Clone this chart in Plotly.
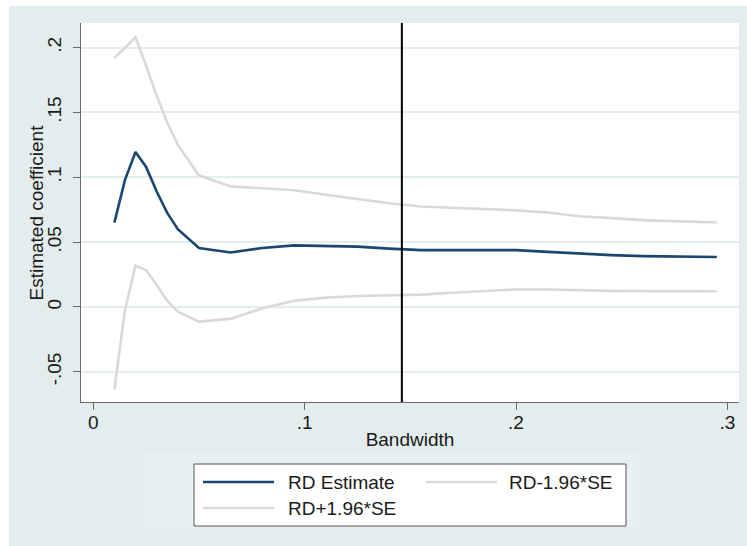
import plotly.graph_objects as go

# ---- data ----
bandwidth = [0.01, 0.015, 0.02, 0.025, 0.03, 0.035, 0.04, 0.05, 0.065, 0.08,
             0.095, 0.11, 0.125, 0.14, 0.155, 0.17, 0.185, 0.2, 0.215, 0.23,
             0.245, 0.26, 0.275, 0.295]
rd_estimate = [0.065, 0.098, 0.1195, 0.108, 0.089, 0.0725, 0.060, 0.0455, 0.042, 0.0455,
               0.0475, 0.047, 0.0465, 0.045, 0.0438, 0.0438, 0.044, 0.0438, 0.0425, 0.041,
               0.040, 0.0392, 0.0388, 0.0385]
rd_upper = [0.192, 0.200, 0.208, 0.186, 0.163, 0.142, 0.125, 0.1015, 0.093, 0.0915,
            0.090, 0.0865, 0.083, 0.080, 0.0775, 0.0765, 0.0755, 0.0745, 0.0728, 0.070,
            0.0685, 0.067, 0.0662, 0.0651]
rd_lower = [-0.0638, -0.0023, 0.0318, 0.0285, 0.0169, 0.0048, -0.0036, -0.0113, -0.0092, -0.001,
            0.0048, 0.0072, 0.0085, 0.0088, 0.0095, 0.011, 0.0125, 0.0135, 0.0135, 0.0128,
            0.0124, 0.0122, 0.0121, 0.0121]
chosen_bandwidth = 0.146

y_ticks = [-0.05, 0, 0.05, 0.1, 0.15, 0.2]
y_ticklabels = ["-.05", "0", ".05", ".1", ".15", ".2"]
x_ticks = [0, 0.1, 0.2, 0.3]
x_ticklabels = ["0", ".1", ".2", ".3"]
legend_labels = ["RD Estimate", "RD-1.96*SE", "RD+1.96*SE"]
y_title = "Estimated coefficient"
x_title = "Bandwidth"

NAVY = "#1a476f"
GREY = "#d9d9d9"
BG = "#e3eded"
FONT = "Liberation Sans, Arial, sans-serif"
TXT = "#1a1a1a"
FS = 19

fig = go.Figure()
fig.add_trace(go.Scatter(x=bandwidth, y=rd_estimate, mode="lines", name=legend_labels[0],
                         line=dict(color=NAVY, width=2.6), showlegend=False))
fig.add_trace(go.Scatter(x=bandwidth, y=rd_lower, mode="lines", name=legend_labels[1],
                         line=dict(color=GREY, width=2.6), showlegend=False))
fig.add_trace(go.Scatter(x=bandwidth, y=rd_upper, mode="lines", name=legend_labels[2],
                         line=dict(color=GREY, width=2.6), showlegend=False))

L, R, T, B = 81, 8, 23, 144
W, H = 747, 546
pw, ph = W - L - R, H - T - B

def px(xpix):
    return (xpix - L) / pw

def py(ypix):
    return (H - B - ypix) / ph

shapes = []
# white outer strips
shapes.append(dict(type="rect", xref="paper", yref="paper", x0=px(-5), x1=px(9), y0=py(560), y1=py(-5),
                   fillcolor="white", line=dict(width=0), layer="below"))
shapes.append(dict(type="rect", xref="paper", yref="paper", x0=px(-5), x1=px(760), y0=py(6), y1=py(-5),
                   fillcolor="white", line=dict(width=0), layer="below"))
# legend region (subtle)
shapes.append(dict(type="rect", xref="paper", yref="paper", x0=px(145), x1=px(639), y0=py(527), y1=py(453),
                   fillcolor="#e8f1f1", line=dict(width=0), layer="below"))
# chosen bandwidth line
shapes.append(dict(type="line", xref="x", yref="paper", x0=chosen_bandwidth, x1=chosen_bandwidth,
                   y0=0, y1=1, line=dict(color="black", width=2)))
# legend box
shapes.append(dict(type="rect", xref="paper", yref="paper", x0=px(194), x1=px(626), y0=py(526), y1=py(464),
                   fillcolor="white", line=dict(color="#555555", width=1)))
# legend samples
samples = [(203, 274, 482, NAVY), (426, 497, 482, GREY), (203, 274, 508, GREY)]
for x0, x1, yy, c in samples:
    shapes.append(dict(type="line", xref="paper", yref="paper", x0=px(x0), x1=px(x1), y0=py(yy), y1=py(yy),
                       line=dict(color=c, width=2.6)))

annotations = []
for (xx, yy), lab in zip([(286, 482), (507, 482), (286, 508)], legend_labels):
    annotations.append(dict(xref="paper", yref="paper", x=px(xx), y=py(yy), text=lab, showarrow=False,
                            xanchor="left", yanchor="middle", font=dict(family=FONT, size=FS, color=TXT)))
# y axis title
annotations.append(dict(xref="paper", yref="paper", x=px(36), y=0.5, text=y_title, showarrow=False,
                        textangle=-90, xanchor="center", yanchor="middle",
                        font=dict(family=FONT, size=FS, color=TXT)))

fig.update_layout(
    width=W, height=H,
    margin=dict(l=L, r=R, t=T, b=B, pad=0),
    paper_bgcolor=BG, plot_bgcolor="white",
    font=dict(family=FONT, size=FS, color=TXT),
    shapes=shapes, annotations=annotations,
    showlegend=False,
)
fig.update_xaxes(range=[-0.0058, 0.3055], tickvals=x_ticks, ticktext=x_ticklabels,
                 showgrid=False, zeroline=False, showline=True, linecolor="#6a6a6a", linewidth=1,
                 ticks="outside", ticklen=7, tickcolor="#6a6a6a", ticklabelstandoff=-4,
                 title=dict(text=x_title, standoff=0, font=dict(size=FS)))
fig.update_yaxes(range=[-0.0733, 0.219], tickvals=y_ticks, ticktext=y_ticklabels, tickangle=-90,
                 showgrid=True, gridcolor=BG, gridwidth=1.6, zeroline=False,
                 showline=True, linecolor="#6a6a6a", linewidth=1,
                 ticks="outside", ticklen=7, tickcolor="#6a6a6a", ticklabelstandoff=4)

fig.write_html("out.html")
